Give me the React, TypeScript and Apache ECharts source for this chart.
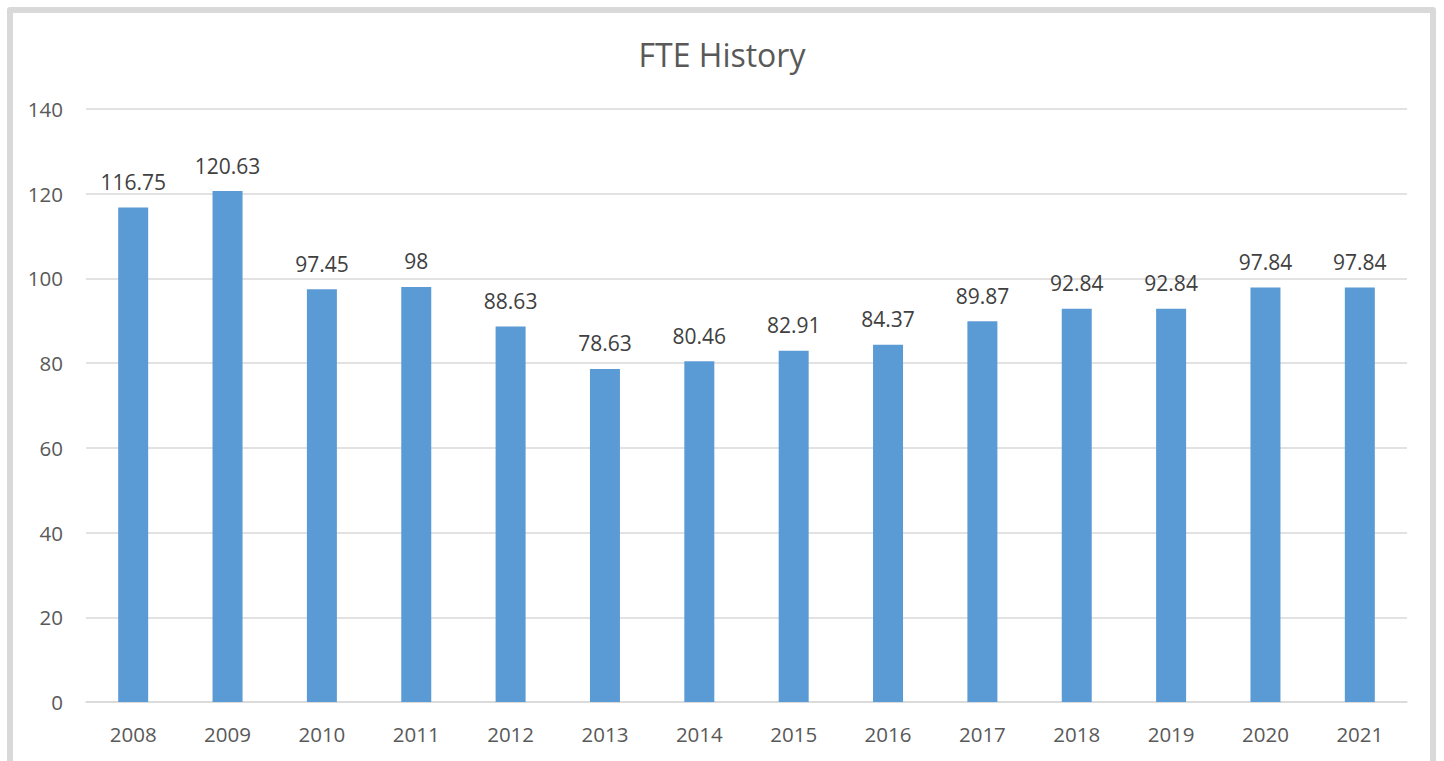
import React, { useEffect, useRef } from "react";
import * as echarts from "echarts";

const categories = ["2008","2009","2010","2011","2012","2013","2014","2015","2016","2017","2018","2019","2020","2021"];
const fteValues = [116.75,120.63,97.45,98,88.63,78.63,80.46,82.91,84.37,89.87,92.84,92.84,97.84,97.84];

const FONT = "'Open Sans', 'Noto Sans', sans-serif";

export default function App() {
  const ref = useRef<HTMLDivElement>(null);
  useEffect(() => {
    if (!ref.current) return;
    const chart = echarts.init(ref.current, null, { renderer: "svg" });
    chart.setOption({
      animation: false,
      title: {
        text: "FTE History",
        left: "center",
        top: 33,
        textStyle: { fontFamily: FONT, fontSize: 32, fontWeight: "normal", color: "#595959" },
      },
      grid: { left: 86, right: 37, top: 109, bottom: 59, containLabel: false },
      xAxis: {
        type: "category",
        data: categories,
        axisLine: { lineStyle: { color: "#d9d9d9", width: 1.5 } },
        axisTick: { show: false },
        axisLabel: { fontFamily: FONT, fontSize: 20.5, color: "#595959", margin: 21 },
      },
      yAxis: {
        type: "value",
        min: 0,
        max: 140,
        interval: 20,
        axisLine: { show: false },
        axisTick: { show: false },
        splitLine: { lineStyle: { color: "#d9d9d9", width: 1.5 } },
        axisLabel: { fontFamily: FONT, fontSize: 20.5, color: "#595959", margin: 23 },
      },
      series: [
        {
          type: "bar",
          data: fteValues,
          barWidth: 30,
          itemStyle: { color: "#5b9bd5" },
          label: {
            show: true,
            position: "top",
            distance: 15,
            fontFamily: FONT,
            fontSize: 21,
            color: "#404040",
          },
        },
      ],
    });
    return () => chart.dispose();
  }, []);
  return (
    <div style={{ position: "absolute", left: 0, top: 0, width: 1444, height: 761, overflow: "hidden", background: "#fff" }}>
      <div
        style={{
          position: "absolute",
          left: 7,
          top: 7,
          width: 1417,
          height: 800,
          border: "6px solid #d9d9d9",
          borderRadius: 3,
        }}
      />
      <div ref={ref} style={{ position: "absolute", left: 0, top: 0, width: 1444, height: 761 }} />
    </div>
  );
}
